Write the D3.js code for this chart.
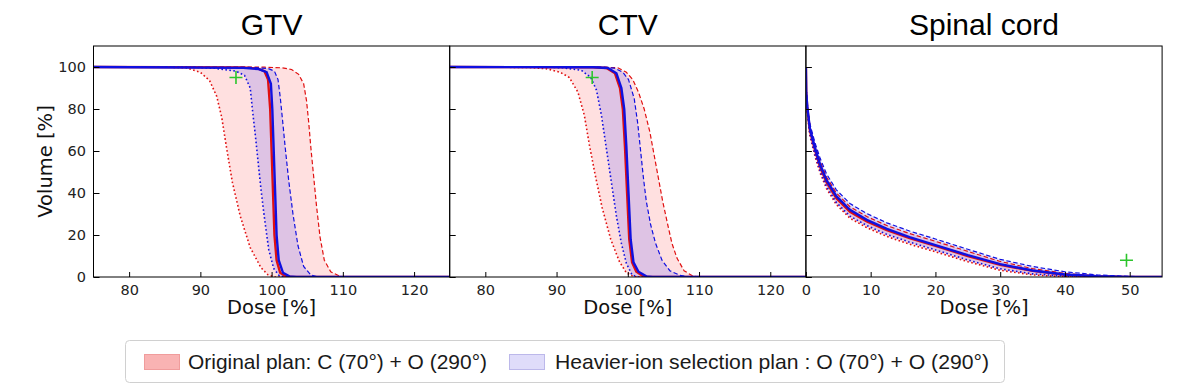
<!DOCTYPE html>
<html>
<head>
<meta charset="utf-8">
<script src="https://cdn.jsdelivr.net/npm/d3@7"></script>
<style>
  body { margin: 0; background: #fff; }
  svg { display: block; }
</style>
</head>
<body>
<svg id="chart" width="1200" height="388"></svg>
<script>
// --- GTV curves [dose %, volume %]
const gtvRedSolid = [[75,100],[96,99.8],[98,99.3],[99,98],[99.5,94],[99.8,80],[100,60],[100.2,40],[100.4,20],[100.7,8],[101.2,2],[102,0.3],[103,0],[125,0]];
const gtvRedDotted = [[75,100],[85,100],[88,99.6],[90,97.5],[91.3,93.5],[92.3,86],[93,76],[93.7,61],[94.5,45],[95.6,29],[97,14],[98.5,4.5],[99.5,1],[100.5,0],[125,0]];
const gtvRedDashed = [[75,100],[99,99.9],[101.5,99.6],[102.8,98.8],[103.8,96.5],[104.5,92],[104.9,84],[105.2,74],[105.5,62],[105.9,48],[106.3,34],[106.8,19],[107.4,8],[108.3,2.5],[109.6,0.3],[110.6,0],[125,0]];
const gtvBlueSolid = [[75,100],[96,99.6],[98.2,99],[99.3,97.5],[99.9,92],[100.1,80],[100.3,60],[100.5,40],[100.7,20],[101,8],[101.6,2],[102.5,0.3],[103.5,0],[125,0]];
const gtvBlueDotted = [[75,100],[88,100],[92,99.4],[95,98],[96.2,96],[97,90],[97.3,80],[97.7,68],[98.1,55],[98.5,42],[99,28],[99.6,13],[100.3,4],[101.1,0.5],[102,0],[125,0]];
const gtvBlueDashed = [[75,100],[97,99.8],[99.5,99.3],[100.4,98],[100.9,94],[101.2,86],[101.5,76],[101.9,62],[102.4,46],[103,30],[103.7,15],[104.5,5],[105.5,1],[106.5,0],[125,0]];

// --- CTV curves
const ctvRedSolid = [[75,100],[95,99.9],[97,99.5],[98.2,97],[98.9,90],[99.3,80],[99.6,62],[99.9,40],[100.2,18],[100.6,7],[101.2,2.5],[102.2,0.3],[103,0],[125,0]];
const ctvRedDotted = [[75,100],[86,99.8],[88.5,99.2],[90.5,97.5],[91.8,95],[93,88],[93.9,77],[94.6,63],[95.4,49],[96.4,33],[97.6,18],[98.8,7.5],[99.8,2],[100.8,0.2],[101.5,0],[125,0]];
const ctvRedDashed = [[75,100],[96,100],[98.6,99.6],[99.8,97.5],[100.7,94],[101.5,88],[102.3,80],[103.1,69],[103.7,58],[104.3,47],[104.9,36],[105.6,25],[106.2,16],[106.9,9],[107.9,3],[109,0.7],[110,0],[125,0]];
const ctvBlueSolid = [[75,100],[95.2,99.9],[97.2,99.5],[98.4,97],[99.1,90],[99.5,80],[99.8,62],[100.1,40],[100.4,18],[100.8,7],[101.5,2.5],[102.6,0.3],[103.5,0],[125,0]];
const ctvBlueDotted = [[75,100],[88,100],[91,99.6],[93.5,98.4],[94.8,95],[95.6,89],[96.3,77],[97,61],[97.7,45],[98.4,29],[99.1,16],[99.8,6.5],[100.6,1],[101.5,0],[125,0]];
const ctvBlueDashed = [[75,100],[96,99.9],[98.1,99.5],[99.3,97.5],[100.1,94],[100.9,85],[101.4,73],[101.8,60],[102.2,47],[102.6,36],[103.2,25],[103.9,16],[104.8,8],[105.9,3],[107.3,0.8],[108.7,0],[125,0]];

// --- Spinal cord curves (shared dose grid)
const spinalDose = [0, 0.05, 0.2, 0.6, 1.4, 2.2, 3.2, 4.7, 6.8, 9.4, 12.5, 16, 20, 25, 30, 35, 40, 45, 50, 55];
const spinalRedSolid = [100, 88, 81, 70, 60.5, 52.5, 45, 37.5, 31, 26.5, 22.3, 18.5, 14.8, 10, 5.8, 2.9, 1, 0.3, 0, 0];
const spinalRedDotted = [100, 86, 79, 67.5, 57.5, 49.5, 42, 34.5, 28, 23.5, 19.3, 15.6, 12, 7.3, 3.2, 1, 0.1, 0, 0, 0];
const spinalRedDashed = [100, 89, 82.5, 72, 63, 55, 47.5, 40, 33.5, 28.8, 24.5, 20.7, 17, 12.2, 7.4, 4, 1.7, 0.6, 0.1, 0];
const spinalBlueSolid = [100, 88, 81.5, 71, 61.5, 53.5, 46, 38.5, 32, 27.2, 22.9, 19, 15.2, 10.4, 6.1, 3.1, 1.2, 0.4, 0, 0];
const spinalBlueDotted = [100, 87, 80, 68.5, 58.5, 50.5, 43, 35.5, 29, 24.5, 20.3, 16.6, 12.9, 8.1, 3.9, 1.5, 0.4, 0, 0, 0];
const spinalBlueDashed = [100, 89.5, 83, 73, 64, 56.5, 49, 41.5, 35, 30.2, 25.8, 21.9, 18.1, 13.2, 8.4, 5, 2.5, 1, 0.3, 0];

// --- axes, titles, markers
const titles = ['GTV', 'CTV', 'Spinal cord'];
const doseDomains = [[75, 125], [75, 125], [0, 55]];
const doseTicks = [[80, 90, 100, 110, 120], [80, 90, 100, 110, 120], [0, 10, 20, 30, 40, 50]];
const volumeTicks = [0, 20, 40, 60, 80, 100];
const constraintMarks = [[95, 95], [95, 95], [49.5, 8]];
const legendLabels = ['Original plan: C (70°) + O (290°)', 'Heavier-ion selection plan : O (70°) + O (290°)'];

const toPairs = (vals) => spinalDose.map((d, i) => [d, vals[i]]);

let panels = [
  { red: [gtvRedSolid, gtvRedDotted, gtvRedDashed], blue: [gtvBlueSolid, gtvBlueDotted, gtvBlueDashed] },
  { red: [ctvRedSolid, ctvRedDotted, ctvRedDashed], blue: [ctvBlueSolid, ctvBlueDotted, ctvBlueDashed] },
  { red: [spinalRedSolid, spinalRedDotted, spinalRedDashed].map(toPairs),
    blue: [spinalBlueSolid, spinalBlueDotted, spinalBlueDashed].map(toPairs) }
];

const svg = d3.select('#chart');
const plotLeft = 93.5, panelW = 356.2, plotTop = 46, plotBottom = 277;
const tickFont = '"DejaVu Sans", sans-serif';
const y = d3.scaleLinear().domain([0, 110]).range([plotBottom, plotTop]);

panels.forEach((p, i) => {
  let x0 = plotLeft + i * panelW;
  let x = d3.scaleLinear().domain(doseDomains[i]).range([x0, x0 + panelW]);
  let g = svg.append('g');

  g.append('clipPath').attr('id', `clip${i}`)
    .append('rect').attr('x', x0).attr('y', plotTop).attr('width', panelW).attr('height', plotBottom - plotTop);

  let plot = g.append('g').attr('clip-path', `url(#clip${i})`);
  let line = d3.line().x(d => x(d[0])).y(d => y(d[1]));

  // uncertainty bands: between dotted and dashed
  let band = (lo, hi) => line(lo.concat(hi.slice().reverse())) + 'Z';
  plot.append('path').attr('d', band(p.red[1], p.red[2])).attr('fill', 'rgba(255,0,0,0.12)');
  plot.append('path').attr('d', band(p.blue[1], p.blue[2])).attr('fill', 'rgba(0,0,255,0.13)');

  // DVH lines
  const styles = [
    { w: 2.4, dash: null },
    { w: 1.6, dash: '1.6,2.4' },
    { w: 1.2, dash: '4.5,2.5' }
  ];
  [['#e01010', p.red], ['#1010e0', p.blue]].forEach(([color, set]) => {
    [1, 2, 0].forEach(k => {
      plot.append('path')
        .attr('d', line(set[k]))
        .attr('fill', 'none')
        .attr('stroke', color)
        .attr('stroke-width', styles[k].w)
        .attr('stroke-dasharray', styles[k].dash);
    });
  });

  // constraint marker
  let m = constraintMarks[i];
  g.append('path')
    .attr('transform', `translate(${x(m[0])},${y(m[1])})`)
    .attr('d', 'M-6.5,0H6.5M0,-6.5V6.5')
    .attr('stroke', '#2cc52c')
    .attr('stroke-width', 1.6);

  // axes with inward ticks
  let xAxis = g.append('g').attr('transform', `translate(0,${plotBottom})`)
    .call(d3.axisBottom(x).tickValues(doseTicks[i]).tickSize(-5).tickPadding(8));
  let yAxis = g.append('g').attr('transform', `translate(${x0},0)`)
    .call(d3.axisLeft(y).tickValues(volumeTicks).tickSize(-6).tickPadding(7.5).tickFormat(i === 0 ? null : ''));
  [xAxis, yAxis].forEach(a => {
    a.select('.domain').remove();
    a.selectAll('line').attr('stroke', '#000');
    a.selectAll('text').attr('font-family', tickFont).attr('font-size', 14.5).attr('fill', '#222');
  });

  g.append('rect')
    .attr('x', x0).attr('y', plotTop).attr('width', panelW).attr('height', plotBottom - plotTop)
    .attr('fill', 'none').attr('stroke', '#000').attr('stroke-width', 1);

  g.append('text')
    .attr('x', x0 + panelW / 2).attr('y', 35)
    .attr('text-anchor', 'middle')
    .attr('font-family', '"Liberation Sans", Arial, sans-serif')
    .attr('font-size', 30)
    .text(titles[i]);

  g.append('text')
    .attr('x', x0 + panelW / 2).attr('y', 314)
    .attr('text-anchor', 'middle')
    .attr('font-family', tickFont)
    .attr('font-size', 19.5)
    .attr('fill', '#111')
    .text('Dose [%]');
});

svg.append('text')
  .attr('transform', `translate(52,${(plotTop + plotBottom) / 2}) rotate(-90)`)
  .attr('text-anchor', 'middle')
  .attr('font-family', tickFont)
  .attr('font-size', 19.5)
  .attr('fill', '#111')
  .text('Volume [%]');

// legend
let legend = svg.append('g');
legend.append('rect')
  .attr('x', 125.5).attr('y', 340.5).attr('width', 879).attr('height', 42).attr('rx', 4)
  .attr('fill', '#fff').attr('stroke', '#d0d0d0');
const swatches = [
  { x: 144, fill: '#f9b3b3', stroke: '#f09c9c', tx: 188, len: 299 },
  { x: 509, fill: '#dfdcfa', stroke: '#bcb8ea', tx: 555, len: 434 }
];
swatches.forEach((s, i) => {
  legend.append('rect')
    .attr('x', s.x + 0.5).attr('y', 354.5).attr('width', 35).attr('height', 15)
    .attr('fill', s.fill).attr('stroke', s.stroke);
  legend.append('text')
    .attr('x', s.tx).attr('y', 368.5)
    .attr('font-family', '"Liberation Sans", Arial, sans-serif')
    .attr('font-size', 21)
    .attr('fill', '#1a1a1a')
    .attr('textLength', s.len)
    .attr('lengthAdjust', 'spacingAndGlyphs')
    .text(legendLabels[i]);
});
</script>
</body>
</html>
